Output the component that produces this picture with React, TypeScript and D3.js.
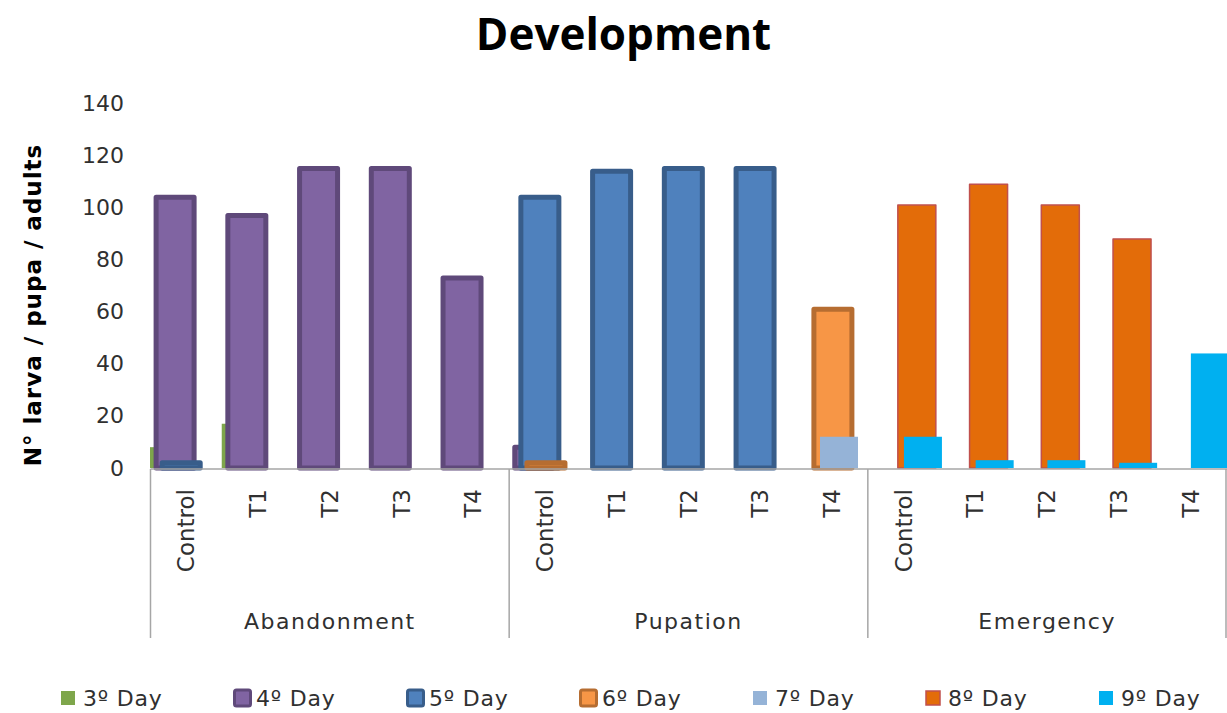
import React from "react";
import * as d3 from "d3";

const treatments = ["Control", "T1", "T2", "T3", "T4"];
const groups = ["Abandonment", "Pupation", "Emergency"];
const seriesNames = ["3º Day", "4º Day", "5º Day", "6º Day", "7º Day", "8º Day", "9º Day"];

const day3 = [8, 17, 0, 0, 0, 0, 0, 0, 0, 0, 0, 0, 0, 0, 0];
const day4 = [104, 97, 115, 115, 73, 8, 0, 0, 0, 0, 0, 0, 0, 0, 0];
const day5 = [2, 0, 0, 0, 0, 104, 114, 115, 115, 0, 0, 0, 0, 0, 0];
const day6 = [0, 0, 0, 0, 0, 2, 0, 0, 0, 61, 0, 0, 0, 0, 0];
const day7 = [0, 0, 0, 0, 0, 0, 0, 0, 0, 12, 0, 0, 0, 0, 0];
const day8 = [0, 0, 0, 0, 0, 0, 0, 0, 0, 0, 101, 109, 101, 88, 0];
const day9 = [0, 0, 0, 0, 0, 0, 0, 0, 0, 0, 12, 3, 3, 2, 44];

const yTicks = [0, 20, 40, 60, 80, 100, 120, 140];

const seriesValues = [day3, day4, day5, day6, day7, day8, day9];
const fills = ["#7EA64B", "#8064A2", "#4F81BD", "#F79646", "#95B3D7", "#E36C09", "#00B0F0"];
const strokes = [null, "#5F497A", "#385D8A", "#B66D31", null, "#C0504D", null];
const strokeWidths = [0, 5, 5, 5, 0, 1.5, 0];

const W = 1227;
const H = 713;

export default function App() {
  const categories = groups.flatMap((g) => treatments.map((t) => `${g}|${t}`));
  const x = d3.scaleBand<string>().domain(categories).range([150.5, 1226.5]).padding(0);
  const y = d3.scaleLinear().domain([0, 140]).range([468, 103.5]);
  const offset = d3.scaleLinear().domain([0, 6]).range([-0.5, 36.1]);
  const barW = 38;
  const bw = x.bandwidth();
  const groupX = d3
    .scaleBand<string>()
    .domain(groups)
    .range([150.5, 1226.5])
    .padding(0);
  const legendX = d3.scaleLinear().domain([0, 6]).range([60, 1098]);
  const axisFont = "'DejaVu Sans', sans-serif";
  const grey = "#A6A6A6";

  return (
    <svg
      width={W}
      height={H}
      style={{ position: "absolute", left: 0, top: 0, background: "#fff", overflow: "hidden" }}
    >
      <rect x={0} y={0} width={W} height={H} fill="#fff" />
      <text
        x={623.5}
        y={50}
        textAnchor="middle"
        fontFamily="'Open Sans', sans-serif"
        fontWeight="bold"
        fontSize={44}
        fill="#000"
      >
        Development
      </text>
      <text
        transform={`translate(33,305) rotate(-90)`}
        textAnchor="middle"
        dominantBaseline="central"
        fontFamily={axisFont}
        fontWeight="bold"
        fontSize={23}
        letterSpacing={1}
        fill="#000"
      >
        N° larva / pupa / adults
      </text>
      {yTicks.map((t) => (
        <text
          key={t}
          x={124}
          y={y(t)}
          textAnchor="end"
          dominantBaseline="central"
          fontFamily={axisFont}
          fontSize={22}
          fill="#303030"
        >
          {t}
        </text>
      ))}
      <g>
        {seriesValues.map((vals, si) =>
          vals.map((v, ci) => {
            if (!v) return null;
            const cx = (x(categories[ci]) as number) + offset(si);
            return (
              <rect
                key={`${si}-${ci}`}
                x={cx}
                y={y(v)}
                width={barW}
                height={y(0) - y(v)}
                fill={fills[si]}
                stroke={strokes[si] || "none"}
                strokeWidth={strokeWidths[si]}
                strokeLinejoin="round"
              />
            );
          })
        )}
      </g>
      <line x1={150.5} x2={1227} y1={469} y2={469} stroke={grey} strokeWidth={1.5} />
      {[0, 1, 2, 3].map((i) => {
        const gx = i < 3 ? (groupX(groups[i]) as number) : 1226;
        return <line key={i} x1={gx} x2={gx} y1={469} y2={638} stroke={grey} strokeWidth={1.5} />;
      })}
      {categories.map((c, ci) => (
        <text
          key={c}
          transform={`translate(${(x(c) as number) + bw / 2},489) rotate(-90)`}
          textAnchor="end"
          dominantBaseline="central"
          fontFamily={axisFont}
          fontSize={23}
          fill="#303030"
        >
          {treatments[ci % 5]}
        </text>
      ))}
      {groups.map((g) => (
        <text
          key={g}
          x={(groupX(g) as number) + groupX.bandwidth() / 2}
          y={629}
          textAnchor="middle"
          fontFamily={axisFont}
          fontSize={22}
          letterSpacing={1.5}
          fill="#303030"
        >
          {g}
        </text>
      ))}
      {seriesNames.map((s, si) => {
        const lx = legendX(si);
        const bordered = !!strokes[si] && strokeWidths[si] > 2;
        const size = bordered ? 16 : 14;
        return (
          <g key={s}>
            <rect
              x={lx + (bordered ? 1.5 : 1)}
              y={698 - size / 2}
              width={size}
              height={size}
              rx={bordered ? 2 : 0}
              fill={fills[si]}
              stroke={strokes[si] || "none"}
              strokeWidth={bordered ? 3 : strokes[si] ? 1.5 : 0}
            />
            <text
              x={lx + 23}
              y={706}
              fontFamily={axisFont}
              fontSize={22}
              letterSpacing={0.8}
              fill="#303030"
            >
              {s}
            </text>
          </g>
        );
      })}
    </svg>
  );
}
